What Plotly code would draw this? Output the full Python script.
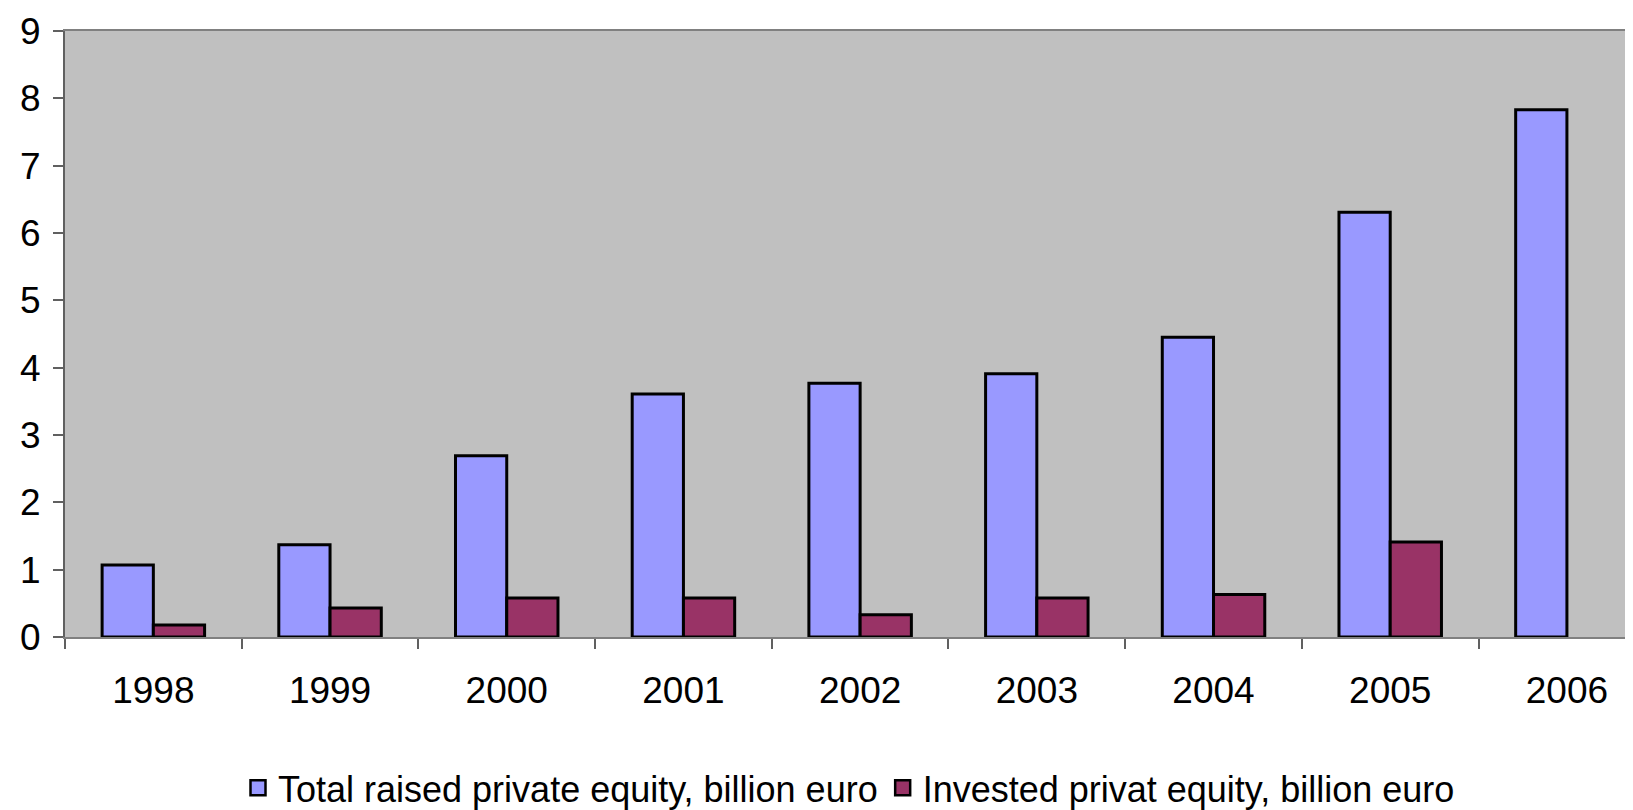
import plotly.graph_objects as go

years = ["1998", "1999", "2000", "2001", "2002", "2003", "2004", "2005", "2006"]
raised = [1.07, 1.37, 2.69, 3.61, 3.77, 3.91, 4.45, 6.31, 7.83]
invested = [0.18, 0.43, 0.58, 0.58, 0.33, 0.58, 0.63, 1.41, None]
series_names = ["Total raised private equity, billion euro",
                "Invested privat equity, billion euro"]
colors = ["#9999FF", "#993366"]
y_ticks = [0, 1, 2, 3, 4, 5, 6, 7, 8, 9]

FONT = "Liberation Sans, Arial, sans-serif"

fig = go.Figure()
for vals, name, col in zip([raised, invested], series_names, colors):
    fig.add_trace(go.Bar(x=years, y=vals, name=name, showlegend=False,
                         marker=dict(color=col, line=dict(color="black", width=3))))
# legend entries with larger square swatches
for name, col in zip(series_names, colors):
    fig.add_trace(go.Scatter(x=[None], y=[None], mode="markers", name=name,
                             marker=dict(symbol="square", size=15, color=col,
                                         line=dict(color="black", width=2.5))))

# page body adds an 8px offset; compensate so the plot sits where the reference has it
fig.update_layout(
    width=1625, height=802,
    margin=dict(l=57, r=0, t=23, b=173, autoexpand=False),
    plot_bgcolor="#C0C0C0",
    paper_bgcolor="white",
    barmode="group",
    bargap=0.42,
    bargroupgap=0,
    font=dict(family=FONT, size=37, color="black"),
    legend=dict(orientation="h", x=0.5, xanchor="center", y=-0.249, yanchor="middle",
                font=dict(size=36), itemwidth=30, traceorder="normal",
                bgcolor="rgba(0,0,0,0)"),
    xaxis=dict(type="category", range=[-0.5, 8.374], tickson="boundaries",
               ticks="outside", ticklen=10, tickcolor="#606060", tickwidth=1.5,
               showline=True, linecolor="#808080", linewidth=2, mirror=True,
               showgrid=False, ticklabelstandoff=20, tickfont=dict(size=37)),
    yaxis=dict(range=[0, 9], tickvals=y_ticks, ticks="outside", ticklen=10,
               tickcolor="#606060", tickwidth=1.5,
               showline=True, linecolor="#606060", linewidth=2, mirror=True,
               showgrid=False, zeroline=False, ticklabelstandoff=5,
               tickfont=dict(size=37)),
)

fig.write_html("out.html")
